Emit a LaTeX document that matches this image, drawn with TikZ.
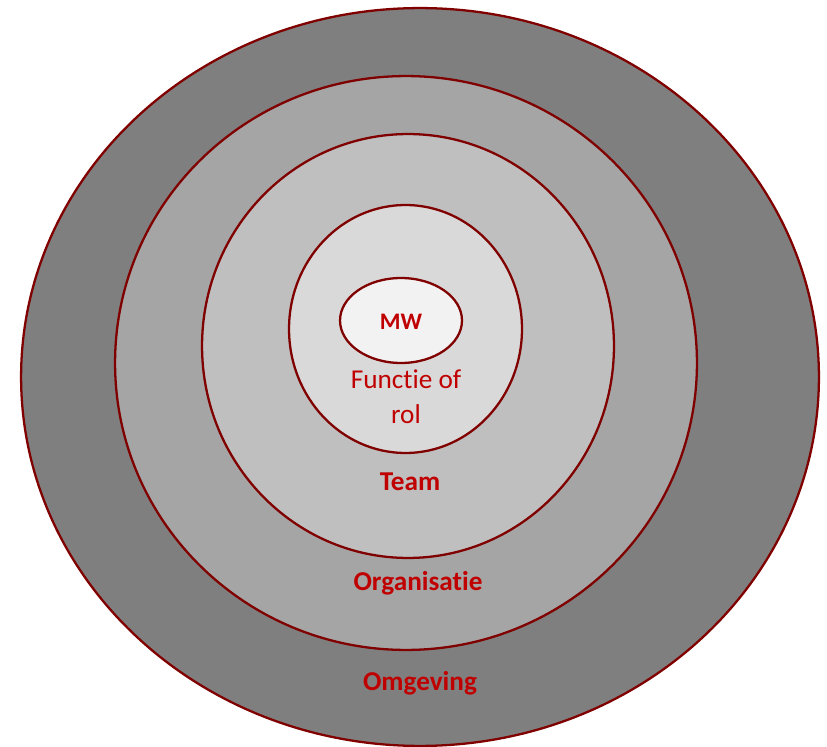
\documentclass[tikz,border=0pt]{standalone}
\usepackage{fontspec}
\setmainfont{Carlito}[Ligatures=NoCommon]
\usetikzlibrary{shapes.geometric}
\definecolor{ringred}{RGB}{128,0,0}
\definecolor{textred}{RGB}{192,0,0}
\definecolor{grayA}{RGB}{127,127,127}
\definecolor{grayB}{RGB}{165,165,165}
\definecolor{grayC}{RGB}{191,191,191}
\definecolor{grayD}{RGB}{217,217,217}
\definecolor{grayE}{RGB}{242,242,242}
\tikzset{
  ring/.style={draw=ringred, line width=1.3pt, ellipse, inner sep=0pt},
  lbl/.style={text=textred, font=\fontsize{15.5}{19.8}\selectfont, align=center},
}

\begin{document}
\begin{tikzpicture}[x=0.02cm,y=-0.02cm]
        \useasboundingbox (0,0) rectangle (827,746);
        % Omgeving
        \node[ring, fill=grayA, minimum width=15.96cm, minimum height=14.76cm] (omg) at (420,377) {};
        % Organisatie
        \node[ring, fill=grayB, minimum width=11.64cm, minimum height=11.48cm] (org) at (406,363) {};
        % Team
        \node[ring, fill=grayC, minimum width=8.24cm, minimum height=8.48cm] (team) at (408,346) {};
        % Functie of rol
        \node[ring, fill=grayD, minimum width=4.66cm, minimum height=4.96cm] (rol) at (405.5,329) {};
        % MW
        \node[ring, fill=grayE, minimum width=2.44cm, minimum height=1.70cm] (mw) at (401,320.5) {};

        \node[lbl, font=\fontsize{13.5}{16}\selectfont\bfseries] (mwtext) at (401,322) {MW};
        \node[lbl] (roltext) at (406,397) {Functie of\\rol};
        \node[lbl, font=\fontsize{15.5}{19.8}\selectfont\bfseries] (teamtext) at (410,482) {Team};
        \node[lbl, font=\fontsize{15.5}{19.8}\selectfont\bfseries] (orgtext) at (418,583) {Organisatie};
        \node[lbl, font=\fontsize{15.5}{19.8}\selectfont\bfseries] (omgtext) at (420,683) {Omgeving};
    \end{tikzpicture}
\end{document}
